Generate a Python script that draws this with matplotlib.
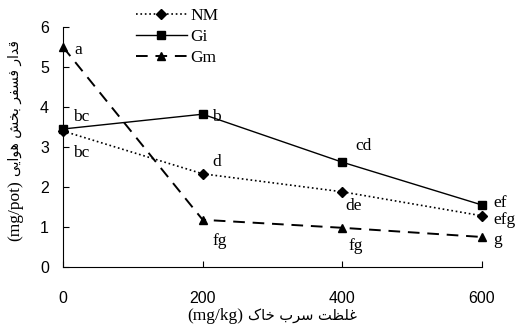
import matplotlib
matplotlib.use("Agg")
import matplotlib.pyplot as plt

# lead concentration in soil (mg/kg)
lead = [0, 200, 400, 600]

nm = [3.40, 2.33, 1.88, 1.28]
gi = [3.45, 3.82, 2.62, 1.55]
gm = [5.50, 1.18, 0.98, 0.75]

# letters from mean comparison
nm_letters = ["bc", "d", "de", "efg"]
gi_letters = ["bc", "b", "cd", "ef"]
gm_letters = ["a", "fg", "fg", "g"]

# persian text, pre-shaped in visual order (matplotlib does no arabic shaping)
xlab_fa = "\uFB8E\uFE8E\uFEA7 \uFE8F\uFEAE\uFEB3 \uFE96\uFEC8\uFEE0\uFECF"
ylab_fa = ("\uFEF0\uFEF3\uFE8D\uFEEE\uFEEB \uFEB6\uFEA8\uFE91 "
           "\uFEAE\uFED4\uFEB4\uFED3 \uFEAD\uFE8D\uFEAA\uFED7")

fig = plt.figure(figsize=(5.18, 3.27), dpi=100)
ax = fig.add_axes([0.1216, 0.1835, 0.8089, 0.7339])

ax.plot(lead, nm, color="black", ls=":", lw=1.2, marker="D", ms=5, label="NM", clip_on=False)
ax.plot(lead, gi, color="black", ls="-", lw=1.0, marker="s", ms=5.5, label="Gi", clip_on=False)
ax.plot(lead, gm, color="black", ls=(0, (6, 4)), lw=1.4, marker="^", ms=6, label="Gm", clip_on=False)

# letter annotations (offsets in points)
offs_nm = [(7, -16), (7, 8.5), (2, -10), (8, -3)]
offs_gi = [(7, 8.5), (7, -2), (9.5, 11.5), (8, 1.5)]
offs_gm = [(8.5, -2), (7, -15), (4.5, -13), (8, -2)]
for xs, ys, labs, offs in [(lead, nm, nm_letters, offs_nm),
                           (lead, gi, gi_letters, offs_gi),
                           (lead, gm, gm_letters, offs_gm)]:
    for x, y, t, o in zip(xs, ys, labs, offs):
        ax.annotate(t, (x, y), xytext=o, textcoords="offset points",
                    family="Liberation Serif", fontsize=12.5, va="center", ha="left")

ax.set_xlim(0, 600)
ax.set_ylim(0, 6)
ax.set_xticks(lead)
ax.set_yticks(range(7))
ax.spines["top"].set_visible(False)
ax.spines["right"].set_visible(False)
ax.tick_params(direction="in", length=4, width=0.8)
ax.tick_params(axis="x", pad=17)
ax.tick_params(axis="y", pad=10)
for lab in ax.get_xticklabels() + ax.get_yticklabels():
    lab.set_family("Liberation Sans")
    lab.set_fontsize(11.5)

# axis titles: latin part in serif, persian part in a sans font
fig.text(243 / 518, 7 / 327, "(mg/kg)", family="Liberation Serif", fontsize=12.5,
         ha="right", va="baseline")
fig.text(248 / 518, 7 / 327, xlab_fa, family="DejaVu Sans", fontsize=10.5,
         ha="left", va="baseline")
fig.text(15 / 518, 1 - 211 / 327, "(mg/pot)", family="Liberation Serif", fontsize=12.5,
         rotation=90, ha="center", va="center")
fig.text(15 / 518, 1 - 108 / 327, ylab_fa, family="DejaVu Sans", fontsize=10,
         rotation=90, ha="center", va="center")

leg = ax.legend(loc="upper left", bbox_to_anchor=(0.15, 1.125), frameon=False,
                prop={"family": "Liberation Serif", "size": 12.5}, borderpad=0.1,
                handlelength=2.9, handletextpad=0.2, labelspacing=0.3)

fig.savefig("out.png", dpi=100)
